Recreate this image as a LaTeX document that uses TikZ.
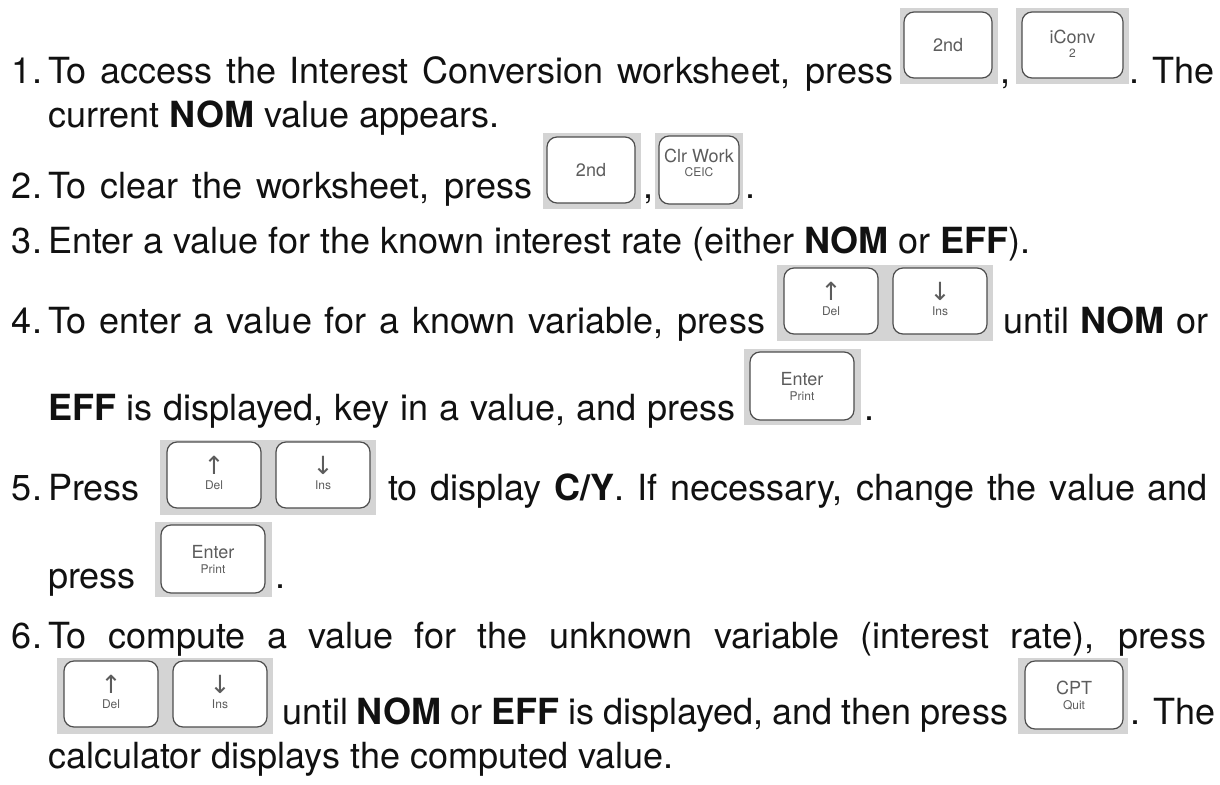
\documentclass[tikz,border=0pt]{standalone}
\usepackage{fontspec}
\setmainfont{TeX Gyre Heros}
\newfontfamily\symfont{DejaVu Sans}
\usetikzlibrary{calc}
\definecolor{keygray}{HTML}{D4D4D4}
\definecolor{keyline}{HTML}{4D4D4D}
\definecolor{keytext}{HTML}{5C5C5C}
\definecolor{bodytext}{HTML}{111111}
\tikzset{
  txt/.style={anchor=base west, inner sep=0pt, outer sep=0pt, font=\fontsize{36}{43}\selectfont, text=bodytext},
  keybg/.style={fill=keygray, draw=none, anchor=north west, inner sep=0pt, outer sep=0pt},
  keycap/.style={fill=white, draw=keyline, line width=1.2pt, rounded corners=10pt, anchor=north west, inner sep=0pt, outer sep=0pt, minimum width=94, minimum height=66},
  kmain/.style={text=keytext, font=\fontsize{18}{18}\selectfont, inner sep=0pt},
  ksub/.style={text=keytext, font=\fontsize{12}{12}\selectfont, inner sep=0pt},
  karrow/.style={text=keytext, font=\symfont\fontsize{25}{25}\selectfont, inner sep=0pt}
}
\begin{document}
\begin{tikzpicture}[x=1pt,y=-1pt]
\fill[white] (0,0) rectangle (1220,784);
\useasboundingbox (0,0) rectangle (1220,784);

% ---------- Step 1 ----------
\node[txt] (n1) at (12,84) {1.};
\node[txt] (t1a) at (48,84) {\makebox[845pt][s]{To access the Interest Conversion worksheet, press}};
\node[keybg, minimum width=98, minimum height=76] (k1bg) at (900,8) {};
\node[keycap, minimum width=88] (k1) at (904,12) {};
\node[kmain] (k1m) at (k1.center) {2nd};
\node[txt] (t1b) at (1000,84) {,};
\node[keybg, minimum width=113, minimum height=76] (k2bg) at (1016,8) {};
\node[keycap, minimum width=101] (k2) at (1022,12) {};
\node[kmain] (k2m) at ($(k2.north)!0.38!(k2.south)$) {iConv};
\node[ksub] (k2s) at ($(k2.north)!0.62!(k2.south)$) {2};
\node[txt] (t1c) at (1129,84) {. The};
\node[txt] (t1d) at (48,127) {current \textbf{NOM} value appears.};

% ---------- Step 2 ----------
\node[txt] (n2) at (12,198) {2.};
\node[txt] (t2a) at (48,198) {\makebox[484pt][s]{To clear the worksheet, press}};
\node[keybg, minimum width=98, minimum height=76] (k3bg) at (543,133) {};
\node[keycap, minimum width=88] (k3) at (547,137) {};
\node[kmain] (k3m) at (k3.center) {2nd};
\node[txt] (t2b) at (643,198) {,};
\node[keybg, minimum width=88, minimum height=76] (k4bg) at (655,133) {};
\node[keycap, minimum width=80, minimum height=68] (k4) at (659,136) {};
\node[kmain] (k4m) at ($(k4.north)!0.30!(k4.south)$) {Clr Work};
\node[ksub] (k4s) at ($(k4.north)!0.53!(k4.south)$) {CEIC};
\node[txt] (t2c) at (745,198) {.};

% ---------- Step 3 ----------
\node[txt] (n3) at (12,253) {3.};
\node[txt] (t3a) at (48,253) {Enter a value for the known interest rate (either \textbf{NOM} or \textbf{EFF}).};

% ---------- Step 4 ----------
\node[txt] (n4) at (12,333) {4.};
\node[txt] (t4a) at (48,333) {\makebox[717pt][s]{To enter a value for a known variable, press}};
\node[keybg, minimum width=216, minimum height=76] (k5bg) at (777,265) {};
\node[keycap] (k5) at (784,268) {};
\node[karrow] (k5m) at ($(k5.north)!0.36!(k5.south)$) {↑};
\node[ksub] (k5s) at ($(k5.north)!0.66!(k5.south)$) {Del};
\node[keycap] (k6) at (893,268) {};
\node[karrow] (k6m) at ($(k6.north)!0.36!(k6.south)$) {↓};
\node[ksub] (k6s) at ($(k6.north)!0.66!(k6.south)$) {Ins};
\node[txt] (t4b) at (1003,333) {\makebox[205pt][s]{until \textbf{NOM} or}};
\node[txt] (t4c) at (48,420) {\makebox[687pt][s]{\textbf{EFF} is displayed, key in a value, and press}};
\node[keybg, minimum width=117, minimum height=76] (k7bg) at (744,349) {};
\node[keycap, minimum width=104, minimum height=68] (k7) at (750,352) {};
\node[kmain] (k7m) at ($(k7.north)!0.40!(k7.south)$) {Enter};
\node[ksub] (k7s) at ($(k7.north)!0.65!(k7.south)$) {Print};
\node[txt] (t4d) at (864,420) {.};

% ---------- Step 5 ----------
\node[txt] (n5) at (12,500) {5.};
\node[txt] (t5a) at (48,500) {Press};
\node[keybg, minimum width=216, minimum height=75] (k8bg) at (160,440) {};
\node[keycap] (k8) at (167,442) {};
\node[karrow] (k8m) at ($(k8.north)!0.36!(k8.south)$) {↑};
\node[ksub] (k8s) at ($(k8.north)!0.66!(k8.south)$) {Del};
\node[keycap] (k9) at (276,442) {};
\node[karrow] (k9m) at ($(k9.north)!0.36!(k9.south)$) {↓};
\node[ksub] (k9s) at ($(k9.north)!0.66!(k9.south)$) {Ins};
\node[txt] (t5b) at (388,500) {\makebox[820pt][s]{to display \textbf{C/Y}. If necessary, change the value and}};
\node[txt] (t5c) at (48,588) {press};
\node[keybg, minimum width=117, minimum height=75] (k10bg) at (155,522) {};
\node[keycap, minimum width=104, minimum height=68] (k10) at (161,525) {};
\node[kmain] (k10m) at ($(k10.north)!0.40!(k10.south)$) {Enter};
\node[ksub] (k10s) at ($(k10.north)!0.65!(k10.south)$) {Print};
\node[txt] (t5d) at (275,588) {.};

% ---------- Step 6 ----------
\node[txt] (n6) at (12,648) {6.};
\node[txt] (t6a) at (48,648) {\makebox[1158pt][s]{To compute a value for the unknown variable (interest rate), press}};
\node[keybg, minimum width=216, minimum height=76] (k11bg) at (57,658) {};
\node[keycap] (k11) at (64,661) {};
\node[karrow] (k11m) at ($(k11.north)!0.36!(k11.south)$) {↑};
\node[ksub] (k11s) at ($(k11.north)!0.66!(k11.south)$) {Del};
\node[keycap] (k12) at (173,661) {};
\node[karrow] (k12m) at ($(k12.north)!0.36!(k12.south)$) {↓};
\node[ksub] (k12s) at ($(k12.north)!0.66!(k12.south)$) {Ins};
\node[txt] (t6b) at (282,724) {\makebox[726pt][s]{until \textbf{NOM} or \textbf{EFF} is displayed, and then press}};
\node[keybg, minimum width=110, minimum height=76] (k13bg) at (1018,658) {};
\node[keycap, minimum width=98, minimum height=68] (k13) at (1025,661) {};
\node[kmain] (k13m) at ($(k13.north)!0.40!(k13.south)$) {CPT};
\node[ksub] (k13s) at ($(k13.north)!0.65!(k13.south)$) {Quit};
\node[txt] (t6c) at (1130,724) {. The};
\node[txt] (t6d) at (48,768) {calculator displays the computed value.};
\end{tikzpicture}
\end{document}
